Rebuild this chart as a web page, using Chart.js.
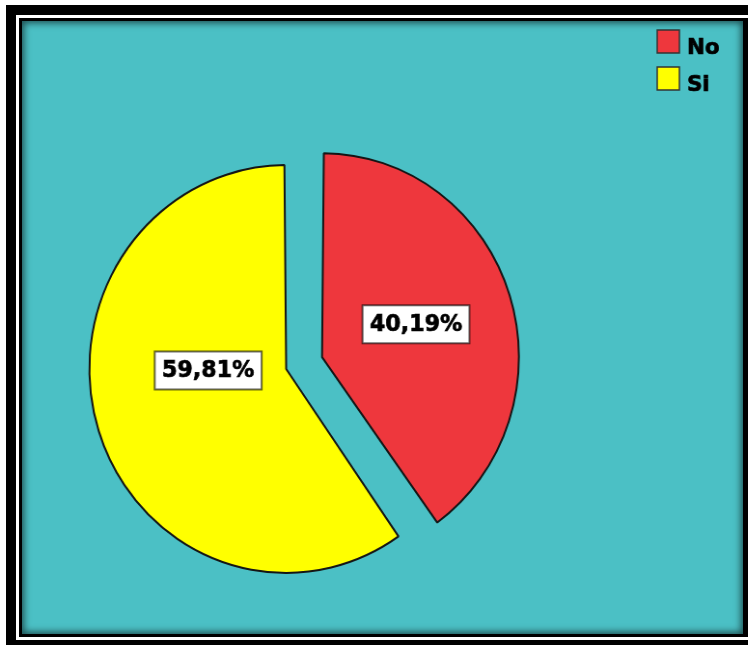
<!DOCTYPE html>
<html>
<head>
<meta charset="utf-8">
<script src="https://cdn.jsdelivr.net/npm/chart.js@4.4.0/dist/chart.umd.min.js"></script>
<style>
  html, body { margin: 0; padding: 0; background: #fff; overflow: hidden; width: 748px; height: 645px; }
  /* double frame round the plot panel */
  #outer { position: absolute; left: 6px; top: 5px; width: 800px; height: 700px; background: #000; }
  #gap { position: absolute; left: 16px; top: 15px; width: 800px; height: 625px; background: #fff; }
  #inner { position: absolute; left: 19px; top: 18px; width: 800px; height: 619px; background: #000; }
  #panel { position: absolute; left: 22px; top: 21px; width: 721px; height: 613px; background: #4bc0c5;
           box-shadow: inset 0 0 7px 2px rgba(0, 0, 0, 0.6); }
  /* the plot is a touch narrower than it is tall */
  #chart { position: absolute; left: 0; top: 0; transform: scaleX(0.965); transform-origin: 0 0; }
</style>
</head>
<body>
<div id="outer"></div>
<div id="gap"></div>
<div id="inner"></div>
<div id="panel"></div>
<canvas id="chart" width="775" height="645"></canvas>
<script>
const labels = ['No', 'Si'];
const percents = [40.19, 59.81];
const sliceColors = ['#ee373d', '#ffff00'];

// Chart.js moves an arc out by a quarter of its offset option
function arcShift(arc) {
    return (arc.options.offset || 0) / 4;
}

// heavy black text: fill plus a thin outline
function heavyText(ctx, text, x, y) {
    ctx.fillStyle = '#000';
    ctx.strokeStyle = '#000';
    ctx.lineWidth = 0.7;
    ctx.fillText(text, x, y);
    ctx.strokeText(text, x, y);
}

// white value boxes sitting on each slice
const sliceLabels = {
    id: 'sliceLabels',
    afterDatasetsDraw(chart, args, opts) {
        const ctx = chart.ctx;
        const meta = chart.getDatasetMeta(0);
        ctx.save();
        ctx.font = 'bold 23px "DejaVu Sans"';
        ctx.textAlign = 'center';
        ctx.textBaseline = 'middle';
        meta.data.forEach((arc, i) => {
            const p = arc.getProps(['x', 'y', 'startAngle', 'endAngle', 'outerRadius'], true);
            const mid = (p.startAngle + p.endAngle) / 2;
            const shift = arcShift(arc);
            const cx = p.x + Math.cos(mid) * shift;
            const cy = p.y + Math.sin(mid) * shift;
            const place = opts.place[i];
            const a = mid + place.turn * Math.PI / 180;
            const lx = cx + Math.cos(a) * p.outerRadius * place.frac;
            const ly = cy + Math.sin(a) * p.outerRadius * place.frac;
            const text = percents[i].toFixed(2).replace('.', ',') + '%';
            const w = ctx.measureText(text).width + 15;
            const h = 38;
            ctx.fillStyle = '#fff';
            ctx.fillRect(lx - w / 2, ly - h / 2, w, h);
            ctx.lineWidth = 2;
            ctx.strokeStyle = 'rgba(0,0,0,0.6)';
            ctx.strokeRect(lx - w / 2, ly - h / 2, w, h);
            heavyText(ctx, text, lx, ly + 1);
        });
        ctx.restore();
    }
};

// small legend in the top right corner
const cornerLegend = {
    id: 'cornerLegend',
    afterDraw(chart, args, opts) {
        const ctx = chart.ctx;
        const s = opts.box;
        ctx.save();
        ctx.font = 'bold 22px "DejaVu Sans"';
        ctx.textBaseline = 'alphabetic';
        chart.data.labels.forEach((lab, i) => {
            const bx = opts.x;
            const by = opts.y + i * opts.step;
            ctx.fillStyle = chart.data.datasets[0].backgroundColor[i];
            ctx.fillRect(bx, by, s, s);
            ctx.lineWidth = 1.5;
            ctx.strokeStyle = '#333';
            ctx.strokeRect(bx, by, s, s);
            heavyText(ctx, lab, bx + s + 8, by + 24);
        });
        ctx.restore();
    }
};

const ctx = document.getElementById('chart');

new Chart(ctx, {
    type: 'pie',
    data: {
        labels: labels,
        datasets: [{
            data: percents,
            backgroundColor: sliceColors,
            borderColor: '#151515',
            borderWidth: 2,
            // the larger slice also grows with its offset, so it gets less of it
            offset: [110, 46]
        }]
    },
    options: {
        responsive: false,
        animation: false,
        radius: 192.4,
        layout: {
            padding: { left: 0, right: 160, top: 86, bottom: 0 }
        },
        plugins: {
            legend: { display: false },
            tooltip: { enabled: false },
            sliceLabels: {
                place: [{ frac: 0.534, turn: -1 }, { frac: 0.42, turn: 16.6 }]
            },
            cornerLegend: { x: 681, y: 30, step: 37, box: 23 }
        }
    },
    plugins: [sliceLabels, cornerLegend]
});
</script>
</body>
</html>
